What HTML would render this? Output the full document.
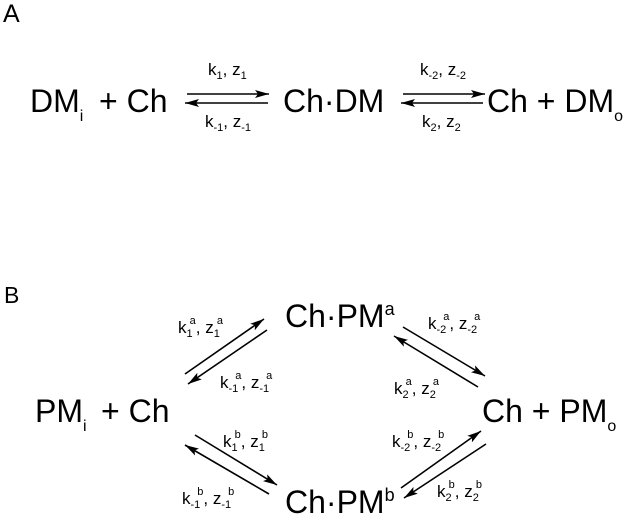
<!DOCTYPE html>
<html><head><meta charset="utf-8"><style>
html,body{margin:0;padding:0;background:#fff;}
svg{display:block;font-family:"Liberation Sans",Arial,sans-serif;}
</style></head><body>
<svg width="640" height="521" viewBox="0 0 640 521" xmlns="http://www.w3.org/2000/svg">
<defs>
<marker id="ah" viewBox="0 0 14 8" refX="14" refY="4" markerWidth="14" markerHeight="8" markerUnits="userSpaceOnUse" orient="auto">
<path d="M0,0 L14,4 L0,8 L3,4 Z" fill="#000"/>
</marker>
</defs>
<g fill="#000">
<text x="3" y="22" font-size="25">A</text>
<text x="4" y="303" font-size="23">B</text>

<!-- Part A -->
<text x="30" y="112" font-size="32">DM<tspan font-size="16" dy="9">i</tspan></text>
<text x="99" y="112" font-size="32">+ Ch</text>
<text x="283" y="112" font-size="32">Ch·DM</text>
<text x="487" y="112" font-size="32">Ch + DM<tspan font-size="16" dy="9">o</tspan></text>

<text x="208" y="75" font-size="17">k<tspan font-size="11" dy="4">1</tspan><tspan dy="-4">, z</tspan><tspan font-size="11" dy="4">1</tspan></text>
<text x="205" y="127" font-size="17">k<tspan font-size="11" dy="4">-1</tspan><tspan dy="-4">, z</tspan><tspan font-size="11" dy="4">-1</tspan></text>
<text x="420" y="75" font-size="17">k<tspan font-size="11" dy="4">-2</tspan><tspan dy="-4">, z</tspan><tspan font-size="11" dy="4">-2</tspan></text>
<text x="422" y="127" font-size="17">k<tspan font-size="11" dy="4">2</tspan><tspan dy="-4">, z</tspan><tspan font-size="11" dy="4">2</tspan></text>

<!-- Part B -->
<text x="35" y="422" font-size="32">PM<tspan font-size="16" dy="9">i</tspan></text>
<text x="101" y="422" font-size="32">+ Ch</text>
<text x="285" y="327" font-size="32">Ch·PM<tspan font-size="18" dy="-12">a</tspan></text>
<text x="285" y="513" font-size="32">Ch·PM<tspan font-size="18" dy="-12">b</tspan></text>
<text x="482" y="422" font-size="32">Ch + PM<tspan font-size="16" dy="9">o</tspan></text>

<text x="178" y="333" font-size="17">k<tspan font-size="11" dy="4">1</tspan><tspan font-size="11" dx="-3" dy="-13">a</tspan><tspan dy="9">, z</tspan><tspan font-size="11" dy="4">1</tspan><tspan font-size="11" dx="-3" dy="-13">a</tspan></text>
<text x="220" y="388" font-size="17">k<tspan font-size="11" dy="4">-1</tspan><tspan font-size="11" dx="-3" dy="-13">a</tspan><tspan dy="9">, z</tspan><tspan font-size="11" dy="4">-1</tspan><tspan font-size="11" dx="-3" dy="-13">a</tspan></text>
<text x="223" y="447" font-size="17">k<tspan font-size="11" dy="4">1</tspan><tspan font-size="11" dx="-3" dy="-13">b</tspan><tspan dy="9">, z</tspan><tspan font-size="11" dy="4">1</tspan><tspan font-size="11" dx="-3" dy="-13">b</tspan></text>
<text x="182" y="504" font-size="17">k<tspan font-size="11" dy="4">-1</tspan><tspan font-size="11" dx="-3" dy="-13">b</tspan><tspan dy="9">, z</tspan><tspan font-size="11" dy="4">-1</tspan><tspan font-size="11" dx="-3" dy="-13">b</tspan></text>

<text x="428" y="329" font-size="17">k<tspan font-size="11" dy="4">-2</tspan><tspan font-size="11" dx="-3" dy="-13">a</tspan><tspan dy="9">, z</tspan><tspan font-size="11" dy="4">-2</tspan><tspan font-size="11" dx="-3" dy="-13">a</tspan></text>
<text x="394" y="394" font-size="17">k<tspan font-size="11" dy="4">2</tspan><tspan font-size="11" dx="-3" dy="-13">a</tspan><tspan dy="9">, z</tspan><tspan font-size="11" dy="4">2</tspan><tspan font-size="11" dx="-3" dy="-13">a</tspan></text>
<text x="392" y="447" font-size="17">k<tspan font-size="11" dy="4">-2</tspan><tspan font-size="11" dx="-3" dy="-13">b</tspan><tspan dy="9">, z</tspan><tspan font-size="11" dy="4">-2</tspan><tspan font-size="11" dx="-3" dy="-13">b</tspan></text>
<text x="437" y="497" font-size="17">k<tspan font-size="11" dy="4">2</tspan><tspan font-size="11" dx="-3" dy="-13">b</tspan><tspan dy="9">, z</tspan><tspan font-size="11" dy="4">2</tspan><tspan font-size="11" dx="-3" dy="-13">b</tspan></text>
</g>

<g stroke="#000" stroke-width="1.6" fill="none" marker-end="url(#ah)">
<line x1="187" y1="94" x2="269" y2="94"/>
<line x1="268" y1="103" x2="185" y2="103"/>
<line x1="403" y1="94" x2="485" y2="94"/>
<line x1="483" y1="103" x2="401" y2="103"/>

<line x1="185" y1="374" x2="264" y2="319"/>
<line x1="267" y1="330" x2="188" y2="384"/>
<line x1="195" y1="435" x2="277" y2="485"/>
<line x1="269" y1="494" x2="185" y2="445"/>

<line x1="403" y1="327" x2="485" y2="376"/>
<line x1="478" y1="387" x2="394" y2="336"/>
<line x1="401" y1="488" x2="481" y2="431"/>
<line x1="486" y1="444" x2="404" y2="498"/>
</g>
</svg>
</body></html>
